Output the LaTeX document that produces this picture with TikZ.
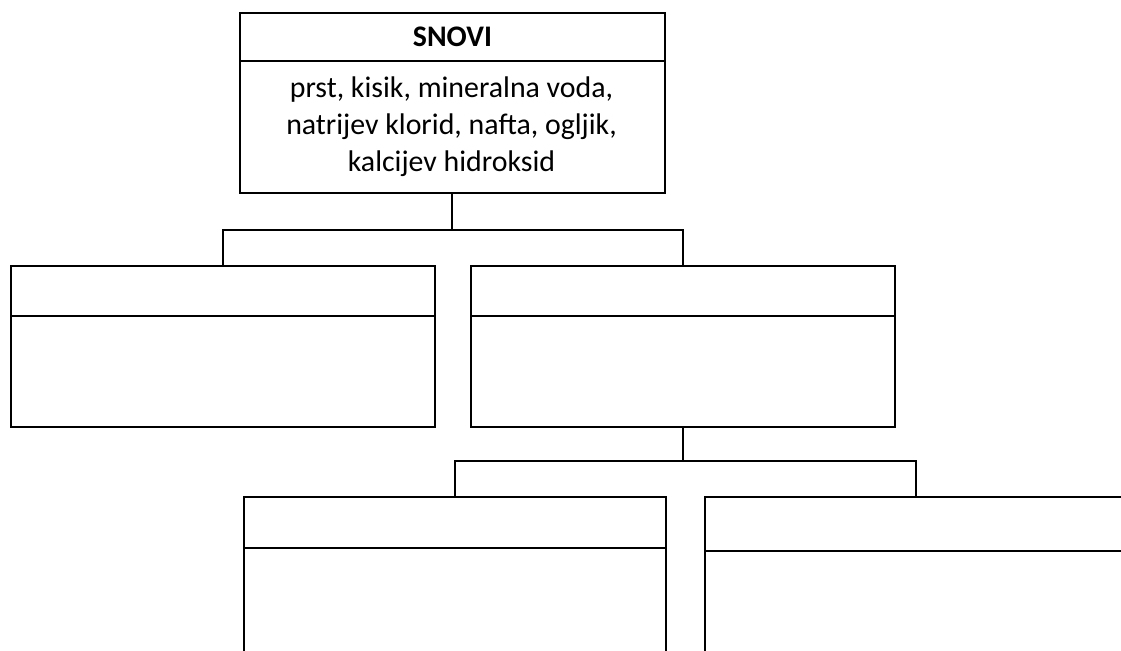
\documentclass[tikz,border=0pt]{standalone}
\usepackage{fontspec}
\setmainfont{Carlito}
\usetikzlibrary{positioning}
\begin{document}
\begin{tikzpicture}[x=0.02cm, y=-0.02cm, font=\fontsize{17}{21}\selectfont]
\tikzset{
  box/.style={draw=black, line width=1.1pt, anchor=north west, minimum width=8.48cm, inner sep=0pt},
  line/.style={draw=black, line width=1.1pt}
}
\useasboundingbox (0,0) rectangle (1121,650);
\clip (0,0) rectangle (1121,650);
% top box
\node[box, minimum width=8.5cm, minimum height=3.6cm] (snovi) at (239,12) {};
\path[line] (snovi.west |- 0,61) -- (snovi.east |- 0,61);
\node[font=\fontsize{17}{21}\selectfont\bfseries] (snovihead) at (snovi.north |- 0,37) {SNOVI};
\node[align=center] (snovitext) at (451.5,127) {prst, kisik, mineralna voda,\\natrijev klorid, nafta, ogljik,\\kalcijev hidroksid};
% second row
\node[box, minimum height=3.22cm] (left) at (10,265) {};
\node[box, minimum height=3.22cm] (right) at (470,265) {};
\path[line] (left.west |- 0,316) -- (left.east |- 0,316);
\path[line] (right.west |- 0,316) -- (right.east |- 0,316);
% third row
\node[box, minimum width=8.44cm, minimum height=4cm] (botleft) at (243,496) {};
\node[box, minimum width=8.44cm, minimum height=4cm] (botright) at (704,496) {};
\path[line] (botleft.west |- 0,548) -- (botleft.east |- 0,548);
\path[line] (botright.west |- 0,551) -- (botright.east |- 0,551);
% connectors
\coordinate (fork1) at (0,230);
\coordinate (fork2) at (0,461);
\path[line] (snovi.south) -- (snovi.south |- fork1);
\path[line] (left.north) |- (snovi.south |- fork1) -| (right.north);
\path[line] (right.south) -- (right.south |- fork2);
\path[line] (botleft.north) |- (right.south |- fork2) -| (botright.north);
\end{tikzpicture}
\end{document}
